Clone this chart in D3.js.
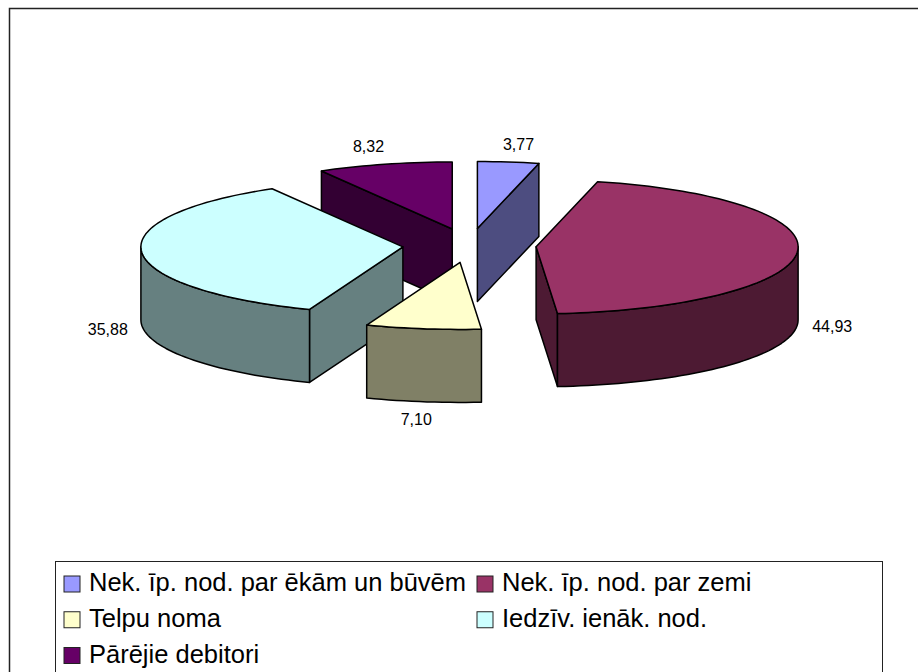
<!DOCTYPE html>
<html>
<head>
<meta charset="utf-8">
<script src="https://cdn.jsdelivr.net/npm/d3@7"></script>
<style>
  html, body { margin: 0; padding: 0; background: #fff; overflow: hidden; }
  text { font-family: "Liberation Sans", Arial, sans-serif; fill: #000; }
</style>
</head>
<body>
<div id="chart"></div>
<script>
var categories = ['Nek. īp. nod. par ēkām un būvēm', 'Nek. īp. nod. par zemi', 'Telpu noma', 'Iedzīv. ienāk. nod.', 'Pārējie debitori'];
var values = [3.77, 44.93, 7.10, 35.88, 8.32];
var valueLabels = ['3,77', '44,93', '7,10', '35,88', '8,32'];
var topColors = ['#9999ff', '#993366', '#ffffcc', '#ccffff', '#660066'];
var sideColors = ['#4d4d80', '#4d1a33', '#808066', '#668080', '#330033'];

var width = 918, height = 672;
var cx = 469.5, cy = 245.5, rx = 262, ry = 67, depth = 73, explode = 0.255;
// back to front
var drawOrder = [4, 0, 3, 1, 2];
var tau = 2 * Math.PI;

var svg = d3.select('#chart').append('svg')
  .attr('width', width)
  .attr('height', height)
  .style('display', 'block');

// chart frame, runs off the right and bottom of the picture
svg.append('rect')
  .attr('x', 9.5).attr('y', 8.5)
  .attr('width', 1000).attr('height', 1000)
  .attr('fill', '#fff').attr('stroke', '#222').attr('stroke-width', 1.5);

var pie = d3.pie().sort(null)(values);

// angle 0 is at the top and goes clockwise, like d3.pie
function point(a, ox, oy, z) {
  return [ox + rx * Math.sin(a), oy - ry * Math.cos(a) + z];
}

function arcPoints(a0, a1, ox, oy, z) {
  var n = Math.max(2, Math.ceil((a1 - a0) / 0.03));
  return d3.range(n + 1).map(function(i) {
    return point(a0 + (a1 - a0) * i / n, ox, oy, z);
  });
}

var line = d3.line();

function face(g, pts, fill) {
  g.append('path')
    .attr('d', line(pts) + 'Z')
    .attr('fill', fill)
    .attr('stroke', '#000')
    .attr('stroke-width', 1.5)
    .attr('stroke-linejoin', 'round');
}

drawOrder.forEach(function(i) {
  var d = pie[i];
  var mid = (d.startAngle + d.endAngle) / 2;
  var ox = cx + explode * rx * Math.sin(mid);
  var oy = cy - explode * ry * Math.cos(mid);
  var g = svg.append('g').attr('class', 'slice');

  // cut faces that look towards the viewer
  if (Math.sin(d.endAngle) > 0.001) {
    var e = point(d.endAngle, ox, oy, 0);
    face(g, [[ox, oy], e, [e[0], e[1] + depth], [ox, oy + depth]], sideColors[i]);
  }
  if (Math.sin(d.startAngle) < -0.001) {
    var s = point(d.startAngle, ox, oy, 0);
    face(g, [[ox, oy], s, [s[0], s[1] + depth], [ox, oy + depth]], sideColors[i]);
  }

  // outer wall, only the front half of the ellipse shows
  var w0 = Math.max(d.startAngle, tau / 4);
  var w1 = Math.min(d.endAngle, tau * 3 / 4);
  if (w1 > w0) {
    var upper = arcPoints(w0, w1, ox, oy, 0);
    var lower = arcPoints(w0, w1, ox, oy, depth).reverse();
    face(g, upper.concat(lower), sideColors[i]);
  }

  // top
  face(g, [[ox, oy]].concat(arcPoints(d.startAngle, d.endAngle, ox, oy, 0)), topColors[i]);
});

// value labels sit just outside the slice edge, small hand nudges per slice
var labelNudge = [[6, 0], [0, 0], [-2, 0], [1, 3], [-7, 0]];

svg.selectAll('.value-label')
  .data(pie)
  .enter()
  .append('text')
  .attr('class', 'value-label')
  .attr('font-size', 16)
  .attr('text-anchor', 'middle')
  .attr('dy', '0.35em')
  .attr('x', function(d, i) {
    var mid = (d.startAngle + d.endAngle) / 2;
    return cx + (1 + explode) * rx * Math.sin(mid) + 35 * Math.sin(mid) + labelNudge[i][0];
  })
  .attr('y', function(d, i) {
    var mid = (d.startAngle + d.endAngle) / 2;
    var front = Math.cos(mid) < 0 ? depth : 0;
    return cy - (1 + explode) * ry * Math.cos(mid) + front - 18 * Math.cos(mid) + labelNudge[i][1];
  })
  .text(function(d, i) { return valueLabels[i]; });

// legend
var legend = svg.append('g');
legend.append('rect')
  .attr('x', 55.5).attr('y', 561.5)
  .attr('width', 827).attr('height', 200)
  .attr('fill', '#fff').attr('stroke', '#222');

var columnX = d3.scaleOrdinal().domain([0, 1]).range([64, 477]);
var rowY = d3.scalePoint().domain([0, 1, 2]).range([584, 655.5]);

var items = legend.selectAll('.legend-item')
  .data(categories)
  .enter()
  .append('g')
  .attr('class', 'legend-item')
  .attr('transform', function(d, i) {
    return 'translate(' + columnX(i % 2) + ',' + rowY(Math.floor(i / 2)) + ')';
  });

items.append('rect')
  .attr('x', 0).attr('y', -8)
  .attr('width', 16).attr('height', 16)
  .attr('fill', function(d, i) { return topColors[i]; })
  .attr('stroke', '#222');

items.append('text')
  .attr('x', 25)
  .attr('y', -2)
  .attr('dy', '0.36em')
  .attr('font-size', 25.5)
  .text(function(d) { return d; });
</script>
</body>
</html>
